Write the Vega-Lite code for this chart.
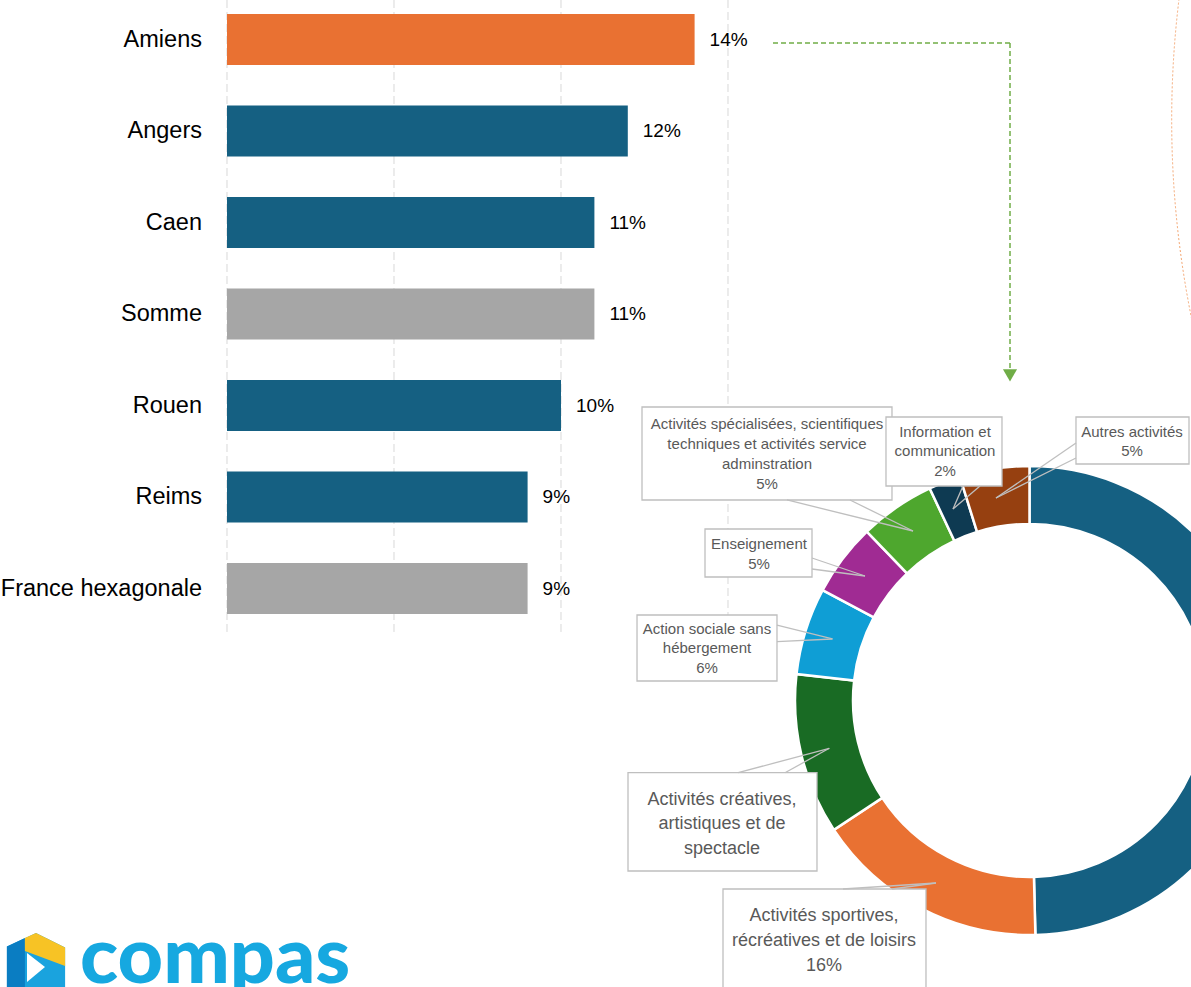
{
  "$schema": "https://vega.github.io/schema/vega-lite/v6.json",
  "width": 1191,
  "height": 987,
  "padding": 0,
  "autosize": "none",
  "background": "#ffffff",
  "config": {
    "view": {"stroke": null},
    "axis": {"disable": true},
    "legend": {"disable": true},
    "text": {"font": "Liberation Sans"}
  },
  "resolve": {"scale": {"x": "independent", "y": "independent", "color": "independent"}},
  "layer": [
    {
      "data": {"values": [{"graduation": 0}, {"graduation": 0.05}, {"graduation": 0.1}, {"graduation": 0.15}]},
      "mark": {"type": "rule", "stroke": "#D9D9D9", "strokeWidth": 1, "strokeDash": [8, 4]},
      "encoding": {
        "x": {"field": "graduation", "type": "quantitative", "scale": {"domain": [-0.067964, 0.288623], "nice": false, "zero": false}},
        "y": {"datum": 300, "type": "quantitative", "scale": {"domain": [-122.7, 300], "nice": false, "zero": false}},
        "y2": {"datum": 29.34}
      }
    },
    {
      "data": {"values": [
        {"territoire": "Amiens", "part": 0.140, "groupe": "Amiens"},
        {"territoire": "Angers", "part": 0.120, "groupe": "Autres villes"},
        {"territoire": "Caen", "part": 0.110, "groupe": "Autres villes"},
        {"territoire": "Somme", "part": 0.110, "groupe": "Références"},
        {"territoire": "Rouen", "part": 0.100, "groupe": "Autres villes"},
        {"territoire": "Reims", "part": 0.090, "groupe": "Autres villes"},
        {"territoire": "France hexagonale", "part": 0.090, "groupe": "Références"}
      ]},
      "encoding": {
        "y": {"field": "territoire", "type": "nominal", "sort": null,
          "scale": {"domain": ["Amiens", "Angers", "Caen", "Somme", "Rouen", "Reims", "France hexagonale"], "range": [0, 640.5], "paddingInner": 0.4426, "paddingOuter": 0.2213, "align": 0.3457, "round": false}}
      },
      "layer": [
        {
          "mark": {"type": "bar"},
          "encoding": {
            "x": {"field": "part", "type": "quantitative", "scale": {"domain": [-0.067964, 0.288623], "nice": false}},
            "color": {"field": "groupe", "type": "nominal", "scale": {"domain": ["Amiens", "Autres villes", "Références"], "range": ["#E97132", "#156082", "#A6A6A6"]}}
          }
        },
        {
          "mark": {"type": "text", "align": "right", "baseline": "middle", "dx": -25, "fontSize": 23.5, "font": "Liberation Sans", "color": "#000000"},
          "encoding": {
            "x": {"datum": 0, "type": "quantitative", "scale": {"domain": [-0.067964, 0.288623], "nice": false}},
            "text": {"field": "territoire", "type": "nominal"}
          }
        },
        {
          "mark": {"type": "text", "align": "left", "baseline": "middle", "dx": 15, "fontSize": 19, "font": "Liberation Sans", "color": "#000000"},
          "encoding": {
            "x": {"field": "part", "type": "quantitative", "scale": {"domain": [-0.067964, 0.288623], "nice": false}},
            "text": {"field": "part", "type": "quantitative", "format": ".0%"}
          }
        }
      ]
    },
    {
      "data": {"values": [
        {"secteur": "Secteur non lisible", "part": 0.496, "rang": 1, "etiquette": ""},
        {"secteur": "Activités sportives, récréatives et de loisirs", "part": 0.161, "rang": 2, "etiquette": "Activités sportives,\nrécréatives et de loisirs\n16%"},
        {"secteur": "Activités créatives, artistiques et de spectacle", "part": 0.111, "rang": 3, "etiquette": "Activités créatives,\nartistiques et de\nspectacle"},
        {"secteur": "Action sociale sans hébergement", "part": 0.060, "rang": 4, "etiquette": "Action sociale sans\nhébergement\n6%"},
        {"secteur": "Enseignement", "part": 0.050, "rang": 5, "etiquette": "Enseignement\n5%"},
        {"secteur": "Activités spécialisées, scientifiques techniques et activités service adminstration", "part": 0.052, "rang": 6, "etiquette": "Activités spécialisées, scientifiques\ntechniques et activités service\nadminstration\n5%"},
        {"secteur": "Information et communication", "part": 0.022, "rang": 7, "etiquette": "Information et\ncommunication\n2%"},
        {"secteur": "Autres activités", "part": 0.048, "rang": 8, "etiquette": "Autres activités\n5%"}
      ]},
      "layer": [
        {
          "mark": {"type": "arc", "innerRadius": 176.5, "outerRadius": 234.5, "stroke": "#ffffff", "strokeWidth": 2.5},
          "encoding": {
            "theta": {"field": "part", "type": "quantitative", "stack": true},
            "order": {"field": "rang", "type": "quantitative"},
            "color": {"field": "secteur", "type": "nominal", "scale": {
              "domain": ["Secteur non lisible", "Activités sportives, récréatives et de loisirs", "Activités créatives, artistiques et de spectacle", "Action sociale sans hébergement", "Enseignement", "Activités spécialisées, scientifiques techniques et activités service adminstration", "Information et communication", "Autres activités"],
              "range": ["#156082", "#E97132", "#196B24", "#0F9ED5", "#A02B93", "#4EA72E", "#0E3A52", "#964010"]}},
            "x": {"datum": 0, "type": "quantitative", "scale": {"domain": [-440.9, 69.165], "nice": false, "zero": false}},
            "y": {"datum": 0, "type": "quantitative", "scale": {"domain": [-122.7, 300], "nice": false, "zero": false}}
          }
        },
        {
          "data": {"values": [{"forme": "ellipse de mise en évidence"}]},
          "mark": {"type": "arc", "outerRadius": 1000, "innerRadius": 0, "theta": 4.5, "theta2": 4.86, "fill": "#ffffff", "fillOpacity": 0, "stroke": "#F4A46E", "strokeWidth": 1, "strokeDash": [2, 2]},
          "encoding": {
            "x": {"datum": 489.16, "type": "quantitative", "scale": {"domain": [-440.9, 69.165], "nice": false, "zero": false}},
            "y": {"datum": 248.61, "type": "quantitative", "scale": {"domain": [-122.7, 300], "nice": false, "zero": false}}
          }
        },
        {
          "data": {"values": [{"territoire": "Amiens"}]},
          "mark": {"type": "rule", "stroke": "#70AD47", "strokeWidth": 1.5, "strokeDash": [5, 3]},
          "encoding": {
            "x": {"datum": -109.85, "type": "quantitative", "scale": {"domain": [-440.9, 69.165], "nice": false, "zero": false}},
            "x2": {"datum": -8.35},
            "y": {"datum": 281.58, "type": "quantitative", "scale": {"domain": [-122.7, 300], "nice": false, "zero": false}}
          }
        },
        {
          "data": {"values": [{"territoire": "Amiens"}]},
          "mark": {"type": "rule", "stroke": "#70AD47", "strokeWidth": 1.5, "strokeDash": [5, 3]},
          "encoding": {
            "x": {"datum": -8.35, "type": "quantitative", "scale": {"domain": [-440.9, 69.165], "nice": false, "zero": false}},
            "y": {"datum": 281.58, "type": "quantitative", "scale": {"domain": [-122.7, 300], "nice": false, "zero": false}},
            "y2": {"datum": 141.54}
          }
        },
        {
          "data": {"values": [{"territoire": "Amiens"}]},
          "mark": {"type": "point", "shape": "triangle-down", "size": 200, "filled": true, "opacity": 1, "color": "#70AD47", "strokeWidth": 0},
          "encoding": {
            "x": {"datum": -8.35, "type": "quantitative", "scale": {"domain": [-440.9, 69.165], "nice": false, "zero": false}},
            "y": {"datum": 139.19, "type": "quantitative", "scale": {"domain": [-122.7, 300], "nice": false, "zero": false}}
          }
        },

        {"transform": [{"filter": {"field": "secteur", "equal": "Activités spécialisées, scientifiques techniques et activités service adminstration"}}],
         "mark": {"type": "rect", "fill": "#ffffff", "stroke": "#BFBFBF", "strokeWidth": 1.3},
         "encoding": {"x": {"datum": -165.95, "type": "quantitative", "scale": {"domain": [-440.9, 69.165], "nice": false, "zero": false}}, "x2": {"datum": -58.89},
           "y": {"datum": 125.70, "type": "quantitative", "scale": {"domain": [-122.7, 300], "nice": false, "zero": false}}, "y2": {"datum": 85.87}}},
        {"transform": [{"filter": {"field": "secteur", "equal": "Activités spécialisées, scientifiques techniques et activités service adminstration"}}],
         "mark": {"type": "rule", "stroke": "#BFBFBF", "strokeWidth": 1.3},
         "encoding": {"x": {"datum": -103.85, "type": "quantitative", "scale": {"domain": [-440.9, 69.165], "nice": false, "zero": false}}, "x2": {"datum": -49.89},
           "y": {"datum": 85.87, "type": "quantitative", "scale": {"domain": [-122.7, 300], "nice": false, "zero": false}}, "y2": {"datum": 72.59}}},
        {"transform": [{"filter": {"field": "secteur", "equal": "Activités spécialisées, scientifiques techniques et activités service adminstration"}}],
         "mark": {"type": "rule", "stroke": "#BFBFBF", "strokeWidth": 1.3},
         "encoding": {"x": {"datum": -76.87, "type": "quantitative", "scale": {"domain": [-440.9, 69.165], "nice": false, "zero": false}}, "x2": {"datum": -49.89},
           "y": {"datum": 85.87, "type": "quantitative", "scale": {"domain": [-122.7, 300], "nice": false, "zero": false}}, "y2": {"datum": 72.59}}},
        {"transform": [{"filter": {"field": "secteur", "equal": "Activités spécialisées, scientifiques techniques et activités service adminstration"}}],
         "mark": {"type": "text", "lineBreak": "\n", "lineHeight": 20, "fontSize": 15, "font": "Liberation Sans", "color": "#595959", "align": "center", "baseline": "middle"},
         "encoding": {"x": {"datum": -112.42, "type": "quantitative", "scale": {"domain": [-440.9, 69.165], "nice": false, "zero": false}},
           "y": {"datum": 118.42, "type": "quantitative", "scale": {"domain": [-122.7, 300], "nice": false, "zero": false}}, "text": {"field": "etiquette", "type": "nominal"}}},

        {"transform": [{"filter": {"field": "secteur", "equal": "Information et communication"}}],
         "mark": {"type": "rect", "fill": "#ffffff", "stroke": "#BFBFBF", "strokeWidth": 1.3},
         "encoding": {"x": {"datum": -61.46, "type": "quantitative", "scale": {"domain": [-440.9, 69.165], "nice": false, "zero": false}}, "x2": {"datum": -11.78},
           "y": {"datum": 121.41, "type": "quantitative", "scale": {"domain": [-122.7, 300], "nice": false, "zero": false}}, "y2": {"datum": 91.86}}},
        {"transform": [{"filter": {"field": "secteur", "equal": "Information et communication"}}],
         "mark": {"type": "rule", "stroke": "#BFBFBF", "strokeWidth": 1.3},
         "encoding": {"x": {"datum": -28.48, "type": "quantitative", "scale": {"domain": [-440.9, 69.165], "nice": false, "zero": false}}, "x2": {"datum": -32.76},
           "y": {"datum": 91.86, "type": "quantitative", "scale": {"domain": [-122.7, 300], "nice": false, "zero": false}}, "y2": {"datum": 82.01}}},
        {"transform": [{"filter": {"field": "secteur", "equal": "Information et communication"}}],
         "mark": {"type": "rule", "stroke": "#BFBFBF", "strokeWidth": 1.3},
         "encoding": {"x": {"datum": -21.20, "type": "quantitative", "scale": {"domain": [-440.9, 69.165], "nice": false, "zero": false}}, "x2": {"datum": -32.76},
           "y": {"datum": 91.86, "type": "quantitative", "scale": {"domain": [-122.7, 300], "nice": false, "zero": false}}, "y2": {"datum": 82.01}}},
        {"transform": [{"filter": {"field": "secteur", "equal": "Information et communication"}}],
         "mark": {"type": "text", "lineBreak": "\n", "lineHeight": 19.5, "fontSize": 15, "font": "Liberation Sans", "color": "#595959", "align": "center", "baseline": "middle"},
         "encoding": {"x": {"datum": -36.19, "type": "quantitative", "scale": {"domain": [-440.9, 69.165], "nice": false, "zero": false}},
           "y": {"datum": 114.99, "type": "quantitative", "scale": {"domain": [-122.7, 300], "nice": false, "zero": false}}, "text": {"field": "etiquette", "type": "nominal"}}},

        {"transform": [{"filter": {"field": "secteur", "equal": "Autres activités"}}],
         "mark": {"type": "rect", "fill": "#ffffff", "stroke": "#BFBFBF", "strokeWidth": 1.3},
         "encoding": {"x": {"datum": 19.91, "type": "quantitative", "scale": {"domain": [-440.9, 69.165], "nice": false, "zero": false}}, "x2": {"datum": 68.31},
           "y": {"datum": 121.41, "type": "quantitative", "scale": {"domain": [-122.7, 300], "nice": false, "zero": false}}, "y2": {"datum": 101.28}}},
        {"transform": [{"filter": {"field": "secteur", "equal": "Autres activités"}}],
         "mark": {"type": "rule", "stroke": "#BFBFBF", "strokeWidth": 1.3},
         "encoding": {"x": {"datum": 19.91, "type": "quantitative", "scale": {"domain": [-440.9, 69.165], "nice": false, "zero": false}}, "x2": {"datum": -14.35},
           "y": {"datum": 110.28, "type": "quantitative", "scale": {"domain": [-122.7, 300], "nice": false, "zero": false}}, "y2": {"datum": 86.72}}},
        {"transform": [{"filter": {"field": "secteur", "equal": "Autres activités"}}],
         "mark": {"type": "rule", "stroke": "#BFBFBF", "strokeWidth": 1.3},
         "encoding": {"x": {"datum": 19.91, "type": "quantitative", "scale": {"domain": [-440.9, 69.165], "nice": false, "zero": false}}, "x2": {"datum": -14.35},
           "y": {"datum": 103.85, "type": "quantitative", "scale": {"domain": [-122.7, 300], "nice": false, "zero": false}}, "y2": {"datum": 86.72}}},
        {"transform": [{"filter": {"field": "secteur", "equal": "Autres activités"}}],
         "mark": {"type": "text", "lineBreak": "\n", "lineHeight": 19.5, "fontSize": 15, "font": "Liberation Sans", "color": "#595959", "align": "center", "baseline": "middle"},
         "encoding": {"x": {"datum": 43.90, "type": "quantitative", "scale": {"domain": [-440.9, 69.165], "nice": false, "zero": false}},
           "y": {"datum": 114.99, "type": "quantitative", "scale": {"domain": [-122.7, 300], "nice": false, "zero": false}}, "text": {"field": "etiquette", "type": "nominal"}}},

        {"transform": [{"filter": {"field": "secteur", "equal": "Enseignement"}}],
         "mark": {"type": "rect", "fill": "#ffffff", "stroke": "#BFBFBF", "strokeWidth": 1.3},
         "encoding": {"x": {"datum": -138.97, "type": "quantitative", "scale": {"domain": [-440.9, 69.165], "nice": false, "zero": false}}, "x2": {"datum": -93.15},
           "y": {"datum": 73.45, "type": "quantitative", "scale": {"domain": [-122.7, 300], "nice": false, "zero": false}}, "y2": {"datum": 52.89}}},
        {"transform": [{"filter": {"field": "secteur", "equal": "Enseignement"}}],
         "mark": {"type": "rule", "stroke": "#BFBFBF", "strokeWidth": 1.3},
         "encoding": {"x": {"datum": -93.15, "type": "quantitative", "scale": {"domain": [-440.9, 69.165], "nice": false, "zero": false}}, "x2": {"datum": -70.45},
           "y": {"datum": 61.03, "type": "quantitative", "scale": {"domain": [-122.7, 300], "nice": false, "zero": false}}, "y2": {"datum": 53.32}}},
        {"transform": [{"filter": {"field": "secteur", "equal": "Enseignement"}}],
         "mark": {"type": "rule", "stroke": "#BFBFBF", "strokeWidth": 1.3},
         "encoding": {"x": {"datum": -93.15, "type": "quantitative", "scale": {"domain": [-440.9, 69.165], "nice": false, "zero": false}}, "x2": {"datum": -70.45},
           "y": {"datum": 56.32, "type": "quantitative", "scale": {"domain": [-122.7, 300], "nice": false, "zero": false}}, "y2": {"datum": 53.32}}},
        {"transform": [{"filter": {"field": "secteur", "equal": "Enseignement"}}],
         "mark": {"type": "text", "lineBreak": "\n", "lineHeight": 20, "fontSize": 15, "font": "Liberation Sans", "color": "#595959", "align": "center", "baseline": "middle"},
         "encoding": {"x": {"datum": -115.85, "type": "quantitative", "scale": {"domain": [-440.9, 69.165], "nice": false, "zero": false}},
           "y": {"datum": 67.02, "type": "quantitative", "scale": {"domain": [-122.7, 300], "nice": false, "zero": false}}, "text": {"field": "etiquette", "type": "nominal"}}},

        {"transform": [{"filter": {"field": "secteur", "equal": "Action sociale sans hébergement"}}],
         "mark": {"type": "rect", "fill": "#ffffff", "stroke": "#BFBFBF", "strokeWidth": 1.3},
         "encoding": {"x": {"datum": -168.09, "type": "quantitative", "scale": {"domain": [-440.9, 69.165], "nice": false, "zero": false}}, "x2": {"datum": -108.14},
           "y": {"datum": 36.62, "type": "quantitative", "scale": {"domain": [-122.7, 300], "nice": false, "zero": false}}, "y2": {"datum": 8.35}}},
        {"transform": [{"filter": {"field": "secteur", "equal": "Action sociale sans hébergement"}}],
         "mark": {"type": "rule", "stroke": "#BFBFBF", "strokeWidth": 1.3},
         "encoding": {"x": {"datum": -108.14, "type": "quantitative", "scale": {"domain": [-440.9, 69.165], "nice": false, "zero": false}}, "x2": {"datum": -84.37},
           "y": {"datum": 32.33, "type": "quantitative", "scale": {"domain": [-122.7, 300], "nice": false, "zero": false}}, "y2": {"datum": 26.34}}},
        {"transform": [{"filter": {"field": "secteur", "equal": "Action sociale sans hébergement"}}],
         "mark": {"type": "rule", "stroke": "#BFBFBF", "strokeWidth": 1.3},
         "encoding": {"x": {"datum": -108.14, "type": "quantitative", "scale": {"domain": [-440.9, 69.165], "nice": false, "zero": false}}, "x2": {"datum": -84.37},
           "y": {"datum": 25.18, "type": "quantitative", "scale": {"domain": [-122.7, 300], "nice": false, "zero": false}}, "y2": {"datum": 26.34}}},
        {"transform": [{"filter": {"field": "secteur", "equal": "Action sociale sans hébergement"}}],
         "mark": {"type": "text", "lineBreak": "\n", "lineHeight": 19.5, "fontSize": 15, "font": "Liberation Sans", "color": "#595959", "align": "center", "baseline": "middle"},
         "encoding": {"x": {"datum": -138.12, "type": "quantitative", "scale": {"domain": [-440.9, 69.165], "nice": false, "zero": false}},
           "y": {"datum": 30.62, "type": "quantitative", "scale": {"domain": [-122.7, 300], "nice": false, "zero": false}}, "text": {"field": "etiquette", "type": "nominal"}}},

        {"transform": [{"filter": {"field": "secteur", "equal": "Activités créatives, artistiques et de spectacle"}}],
         "mark": {"type": "rect", "fill": "#ffffff", "stroke": "#BFBFBF", "strokeWidth": 1.3},
         "encoding": {"x": {"datum": -171.95, "type": "quantitative", "scale": {"domain": [-440.9, 69.165], "nice": false, "zero": false}}, "x2": {"datum": -91.01},
           "y": {"datum": -30.92, "type": "quantitative", "scale": {"domain": [-122.7, 300], "nice": false, "zero": false}}, "y2": {"datum": -73.02}}},
        {"transform": [{"filter": {"field": "secteur", "equal": "Activités créatives, artistiques et de spectacle"}}],
         "mark": {"type": "rule", "stroke": "#BFBFBF", "strokeWidth": 1.3},
         "encoding": {"x": {"datum": -124.75, "type": "quantitative", "scale": {"domain": [-440.9, 69.165], "nice": false, "zero": false}}, "x2": {"datum": -85.74},
           "y": {"datum": -30.92, "type": "quantitative", "scale": {"domain": [-122.7, 300], "nice": false, "zero": false}}, "y2": {"datum": -20.47}}},
        {"transform": [{"filter": {"field": "secteur", "equal": "Activités créatives, artistiques et de spectacle"}}],
         "mark": {"type": "rule", "stroke": "#BFBFBF", "strokeWidth": 1.3},
         "encoding": {"x": {"datum": -104.71, "type": "quantitative", "scale": {"domain": [-440.9, 69.165], "nice": false, "zero": false}}, "x2": {"datum": -85.74},
           "y": {"datum": -30.92, "type": "quantitative", "scale": {"domain": [-122.7, 300], "nice": false, "zero": false}}, "y2": {"datum": -20.47}}},
        {"transform": [{"filter": {"field": "secteur", "equal": "Activités créatives, artistiques et de spectacle"}}],
         "mark": {"type": "text", "lineBreak": "\n", "lineHeight": 24.5, "fontSize": 18, "font": "Liberation Sans", "color": "#595959", "align": "center", "baseline": "middle"},
         "encoding": {"x": {"datum": -131.69, "type": "quantitative", "scale": {"domain": [-440.9, 69.165], "nice": false, "zero": false}},
           "y": {"datum": -42.61, "type": "quantitative", "scale": {"domain": [-122.7, 300], "nice": false, "zero": false}}, "text": {"field": "etiquette", "type": "nominal"}}},

        {"transform": [{"filter": {"field": "secteur", "equal": "Activités sportives, récréatives et de loisirs"}}],
         "mark": {"type": "rect", "fill": "#ffffff", "stroke": "#BFBFBF", "strokeWidth": 1.3},
         "encoding": {"x": {"datum": -131.26, "type": "quantitative", "scale": {"domain": [-440.9, 69.165], "nice": false, "zero": false}}, "x2": {"datum": -44.33},
           "y": {"datum": -80.73, "type": "quantitative", "scale": {"domain": [-122.7, 300], "nice": false, "zero": false}}, "y2": {"datum": -126.12}}},
        {"transform": [{"filter": {"field": "secteur", "equal": "Activités sportives, récréatives et de loisirs"}}],
         "mark": {"type": "rule", "stroke": "#BFBFBF", "strokeWidth": 1.3},
         "encoding": {"x": {"datum": -79.87, "type": "quantitative", "scale": {"domain": [-440.9, 69.165], "nice": false, "zero": false}}, "x2": {"datum": -40.04},
           "y": {"datum": -80.73, "type": "quantitative", "scale": {"domain": [-122.7, 300], "nice": false, "zero": false}}, "y2": {"datum": -78.16}}},
        {"transform": [{"filter": {"field": "secteur", "equal": "Activités sportives, récréatives et de loisirs"}}],
         "mark": {"type": "rule", "stroke": "#BFBFBF", "strokeWidth": 1.3},
         "encoding": {"x": {"datum": -58.89, "type": "quantitative", "scale": {"domain": [-440.9, 69.165], "nice": false, "zero": false}}, "x2": {"datum": -40.04},
           "y": {"datum": -80.73, "type": "quantitative", "scale": {"domain": [-122.7, 300], "nice": false, "zero": false}}, "y2": {"datum": -78.16}}},
        {"transform": [{"filter": {"field": "secteur", "equal": "Activités sportives, récréatives et de loisirs"}}],
         "mark": {"type": "text", "lineBreak": "\n", "lineHeight": 25, "fontSize": 18, "font": "Liberation Sans", "color": "#595959", "align": "center", "baseline": "middle"},
         "encoding": {"x": {"datum": -88.01, "type": "quantitative", "scale": {"domain": [-440.9, 69.165], "nice": false, "zero": false}},
           "y": {"datum": -92.29, "type": "quantitative", "scale": {"domain": [-122.7, 300], "nice": false, "zero": false}}, "text": {"field": "etiquette", "type": "nominal"}}},

        {
          "data": {"values": [{"marque": "compas"}]},
          "mark": {"type": "point", "shape": "M0,-0.95 L0.97,-0.47 L0.97,1.3 L-0.97,1.3 L-0.97,-0.5 Z", "size": 3600, "filled": true, "opacity": 1, "color": "#1AA3DE", "strokeWidth": 0},
          "encoding": {
            "x": {"datum": -425.48, "type": "quantitative", "scale": {"domain": [-440.9, 69.165], "nice": false, "zero": false}},
            "y": {"datum": -111.78, "type": "quantitative", "scale": {"domain": [-122.7, 300], "nice": false, "zero": false}}
          }
        },
        {
          "data": {"values": [{"marque": "compas"}]},
          "mark": {"type": "point", "shape": "M-0.97,-0.5 L-0.37,-0.78 L-0.37,1.3 L-0.97,1.3 Z", "size": 3600, "filled": true, "opacity": 1, "color": "#0A7DC2", "strokeWidth": 0},
          "encoding": {
            "x": {"datum": -425.48, "type": "quantitative", "scale": {"domain": [-440.9, 69.165], "nice": false, "zero": false}},
            "y": {"datum": -111.78, "type": "quantitative", "scale": {"domain": [-122.7, 300], "nice": false, "zero": false}}
          }
        },
        {
          "data": {"values": [{"marque": "compas"}]},
          "mark": {"type": "point", "shape": "M-0.37,-0.78 L0,-0.95 L0.97,-0.47 L0.97,0.15 L-0.37,-0.35 Z", "size": 3600, "filled": true, "opacity": 1, "color": "#F7C325", "strokeWidth": 0},
          "encoding": {
            "x": {"datum": -425.48, "type": "quantitative", "scale": {"domain": [-440.9, 69.165], "nice": false, "zero": false}},
            "y": {"datum": -111.78, "type": "quantitative", "scale": {"domain": [-122.7, 300], "nice": false, "zero": false}}
          }
        },
        {
          "data": {"values": [{"marque": "compas"}]},
          "mark": {"type": "point", "shape": "M-0.3,-0.28 L-0.3,0.68 L0.3,0.18 Z", "size": 3600, "filled": true, "opacity": 1, "color": "#ffffff", "strokeWidth": 0},
          "encoding": {
            "x": {"datum": -425.48, "type": "quantitative", "scale": {"domain": [-440.9, 69.165], "nice": false, "zero": false}},
            "y": {"datum": -111.78, "type": "quantitative", "scale": {"domain": [-122.7, 300], "nice": false, "zero": false}}
          }
        },
        {
          "data": {"values": [{"marque": "compas"}]},
          "mark": {"type": "text", "font": "Lato", "fontWeight": 900, "fontSize": 79, "color": "#16A8E0", "align": "left", "baseline": "alphabetic"},
          "encoding": {
            "x": {"datum": -406.64, "type": "quantitative", "scale": {"domain": [-440.9, 69.165], "nice": false, "zero": false}},
            "y": {"datum": -120.99, "type": "quantitative", "scale": {"domain": [-122.7, 300], "nice": false, "zero": false}},
            "text": {"field": "marque", "type": "nominal"}
          }
        }
      ]
    }
  ]
}
